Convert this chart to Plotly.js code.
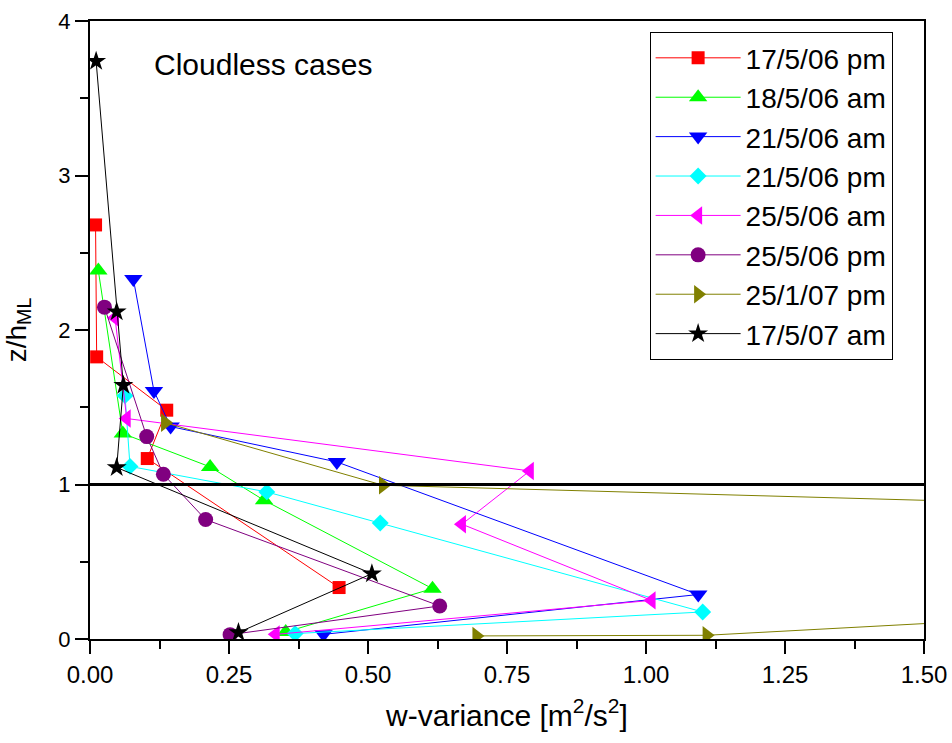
<!DOCTYPE html>
<html>
<head>
<meta charset="utf-8">
<script src="https://cdn.plot.ly/plotly-3.0.1.min.js"></script>
<style>html,body{margin:0;padding:0;background:#fff;}#chart{width:952px;height:743px;}</style>
</head>
<body>
<div id="chart"></div>
<script>
// Series names
const seriesNames = ["17/5/06 pm","18/5/06 am","21/5/06 am","21/5/06 pm","25/5/06 am","25/5/06 pm","25/1/07 pm","17/5/07 am"];

// w-variance (x) and z/h_ML (y) for each profile
const x_170506pm = [0.010, 0.012, 0.138, 0.103, 0.448];
const y_170506pm = [2.68, 1.826, 1.481, 1.168, 0.333];

const x_180506am = [0.015, 0.059, 0.216, 0.313, 0.616, 0.352];
const y_180506am = [2.385, 1.33, 1.114, 0.898, 0.326, 0.045];

const x_210506am = [0.078, 0.115, 0.145, 0.444, 1.094, 0.420];
const y_210506am = [2.33, 1.605, 1.375, 1.146, 0.288, 0.030];

const x_210506pm = [0.063, 0.072, 0.318, 0.522, 1.102, 0.369];
const y_210506pm = [1.575, 1.117, 0.952, 0.751, 0.175, 0.035];

const x_250506am = [0.045, 0.066, 0.791, 0.669, 1.010, 0.334];
const y_250506am = [2.08, 1.427, 1.088, 0.743, 0.250, 0.030];

const x_250506pm = [0.026, 0.102, 0.132, 0.208, 0.629, 0.252];
const y_250506pm = [2.148, 1.31, 1.066, 0.773, 0.214, 0.028];

const x_250107pm = [0.135, 0.527, 4.22, 1.109, 0.695];
const y_250107pm = [1.40, 0.995, 0.626, 0.024, 0.020];

const x_170507am = [0.011, 0.048, 0.060, 0.048, 0.507, 0.267];
const y_170507am = [3.74, 2.118, 1.643, 1.11, 0.423, 0.042];

const xTickVals = [0, 0.25, 0.5, 0.75, 1.0, 1.25, 1.5];
const xTickText = ["0.00","0.25","0.50","0.75","1.00","1.25","1.50"];
const yTickVals = [0, 1, 2, 3, 4];
const yTickText = ["0","1","2","3","4"];

const xs = [x_170506pm, x_180506am, x_210506am, x_210506pm, x_250506am, x_250506pm, x_250107pm, x_170507am];
const ys = [y_170506pm, y_180506am, y_210506am, y_210506pm, y_250506am, y_250506pm, y_250107pm, y_170507am];
const colors = ["#FF0000","#00FF00","#0000FF","#00FFFF","#FF00FF","#800080","#808000","#000000"];
const symbols = ["square","triangle-up","triangle-down","diamond","triangle-left","circle","triangle-right","star"];
const sizes = [13, 16, 16, 13, 16, 15, 16, 15];

const FONT = "Liberation Sans, Arial, Helvetica, sans-serif";

const traces = seriesNames.map((name, i) => ({
  type: "scatter",
  mode: "lines+markers",
  name: name,
  x: xs[i],
  y: ys[i],
  line: {color: colors[i], width: 1},
  marker: {color: colors[i], symbol: symbols[i], size: sizes[i], line: {width: 0}}
}));

const layout = {
  width: 952,
  height: 743,
  margin: {l: 90, r: 28, t: 21, b: 104},
  paper_bgcolor: "#ffffff",
  plot_bgcolor: "#ffffff",
  font: {family: FONT, color: "#000000"},
  showlegend: true,
  legend: {
    x: 0.671, y: 0.982, xanchor: "left", yanchor: "top",
    bgcolor: "#ffffff", bordercolor: "#000000", borderwidth: 1,
    font: {family: FONT, size: 28, color: "#000000"},
    itemwidth: 85
  },
  xaxis: {
    range: [0, 1.5],
    tickmode: "array", tickvals: xTickVals, ticktext: xTickText,
    ticks: "outside", ticklen: 13, tickwidth: 2, tickcolor: "#000",
    minor: {dtick: 0.125, ticks: "outside", ticklen: 8, tickwidth: 2, tickcolor: "#000", showgrid: false},
    showline: true, linewidth: 2, linecolor: "#000", mirror: true,
    showgrid: false, zeroline: false,
    tickfont: {family: FONT, size: 24, color: "#000"},
    title: {text: "w-variance [m<sup>2</sup>/s<sup>2</sup>]", font: {family: FONT, size: 30, color: "#000"}, standoff: 18}
  },
  yaxis: {
    range: [0, 4],
    tickmode: "array", tickvals: yTickVals, ticktext: yTickText,
    ticks: "outside", ticklen: 13, tickwidth: 2, tickcolor: "#000",
    minor: {dtick: 0.5, ticks: "outside", ticklen: 8, tickwidth: 2, tickcolor: "#000", showgrid: false},
    showline: true, linewidth: 2, linecolor: "#000", mirror: true,
    showgrid: false, zeroline: false,
    tickfont: {family: FONT, size: 22, color: "#000"},
    title: {text: "z/h<sub>ML</sub>", font: {family: FONT, size: 28, color: "#000"}, standoff: 24}
  },
  shapes: [{
    type: "line", xref: "paper", yref: "y", x0: 0, x1: 1, y0: 1, y1: 1,
    line: {color: "#000000", width: 3}, layer: "above"
  }],
  annotations: [{
    text: "Cloudless cases", xref: "paper", yref: "paper",
    x: 0.0743, y: 0.930, xanchor: "left", yanchor: "middle",
    showarrow: false, font: {family: FONT, size: 30, color: "#000"}
  }]
};

Plotly.newPlot("chart", traces, layout, {displayModeBar: false, staticPlot: true});
</script>
</body>
</html>
